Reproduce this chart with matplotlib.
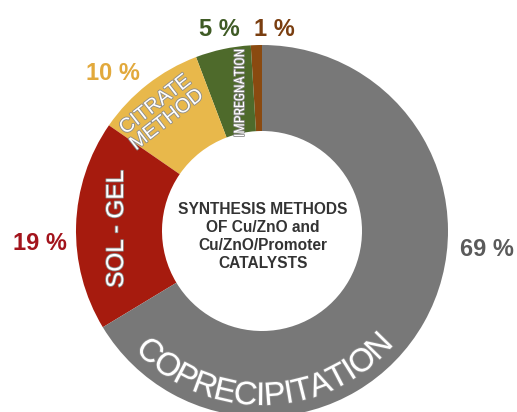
import matplotlib
matplotlib.use("Agg")
import matplotlib.pyplot as plt
import matplotlib.patheffects as pe
import numpy as np
from matplotlib import font_manager as fm
from matplotlib.font_manager import FontProperties
from matplotlib.textpath import text_to_path

plt.rcParams['font.family'] = ['Liberation Sans', 'DejaVu Sans']

# Share of each synthesis method (counter-clockwise from 12 o'clock)
methods = ["Other", "Impregnation", "Citrate method", "Sol - gel", "Coprecipitation"]
shares = [1, 5, 10, 19, 69]
colors = ["#8A4A10", "#4E6A2B", "#E8B84B", "#A61B0E", "#787878"]
label_colors = ["#7A3E10", "#3F5B25", "#E2A93C", "#A3141C", "#5A5A5A"]
pct_labels = [f"{v} %" for v in shares]

# a narrow grotesque for the tightly set ring labels
installed = {f.name for f in fm.fontManager.ttflist}
narrow = next((n for n in ["Liberation Sans Narrow", "Arial Narrow", "Roboto Condensed",
                           "Archivo Narrow", "Asap Condensed", "Barlow Condensed"]
               if n in installed), "Liberation Sans")

W, H, DPI = 517, 412, 100
fig = plt.figure(figsize=(W / DPI, H / DPI), dpi=DPI)
ax = fig.add_axes([0, 0, 1, 1])

cx, cy = 262, 181
r_out, r_in = 186, 100
ax.pie(shares, colors=colors, startangle=90, counterclock=True,
       radius=r_out, center=(cx, cy),
       wedgeprops=dict(width=r_out - r_in, edgecolor="none", linewidth=0))
ax.set_xlim(0, W)
ax.set_ylim(0, H)
ax.set_aspect("equal")
ax.axis("off")

PX = 72 / DPI  # points per pixel

# percentage labels around the ring
pct_pos = [(274, H - 29), (219, H - 29), (113, H - 73), (40, H - 243), (487, H - 250)]
for txt, col, (x, y) in zip(pct_labels, label_colors, pct_pos):
    ax.text(x, y, txt, color=col, fontsize=17, fontweight="bold",
            ha="center", va="center")

# centre caption
ax.text(263, H - 236,
        "SYNTHESIS METHODS\nOF Cu/ZnO and\nCu/ZnO/Promoter\nCATALYSTS",
        color="#333333", fontsize=11.2, fontweight="bold",
        ha="center", va="center", linespacing=1.25)

outline = [pe.withStroke(linewidth=1.2, foreground="#8c8c8c")]

# segment names
ax.text(117, H - 229, "SOL - GEL", color="white", fontsize=17.5,
        rotation=90, ha="center", va="center", path_effects=outline)
ax.text(240, H - 93, "IMPREGNATION", color="white", fontsize=10,
        family=[narrow, "DejaVu Sans"],
        rotation=90, ha="center", va="center", path_effects=outline)
ax.text(161, H - 112, "CITRATE\nMETHOD", color="white", fontsize=14.5,
        rotation=38, ha="center", va="center", linespacing=1.0,
        rotation_mode="anchor", path_effects=outline)

# curved label along the bottom of the ring
word = "COPRECIPITATION"
fs = 23.5
prop = FontProperties(family="Liberation Sans", size=fs)
widths = np.array([text_to_path.get_text_width_height_descent(c, prop, ismath=False)[0]
                   for c in word]) / PX
centers = np.cumsum(widths) - widths / 2
span = np.deg2rad(-44.5 - (-133.0))
scale = span / (centers[-1] - centers[0])
angles = np.deg2rad(-133.0) + (centers - centers[0]) * scale
r_base = 174
for ch, th in zip(word, angles):
    ax.text(cx + r_base * np.cos(th), cy + r_base * np.sin(th), ch,
            color="white", fontsize=fs, family=["Liberation Sans", "DejaVu Sans"],
            rotation=np.rad2deg(th) + 90,
            rotation_mode="anchor", ha="center", va="baseline",
            path_effects=outline)

fig.savefig("out.png", dpi=DPI, facecolor="white")
